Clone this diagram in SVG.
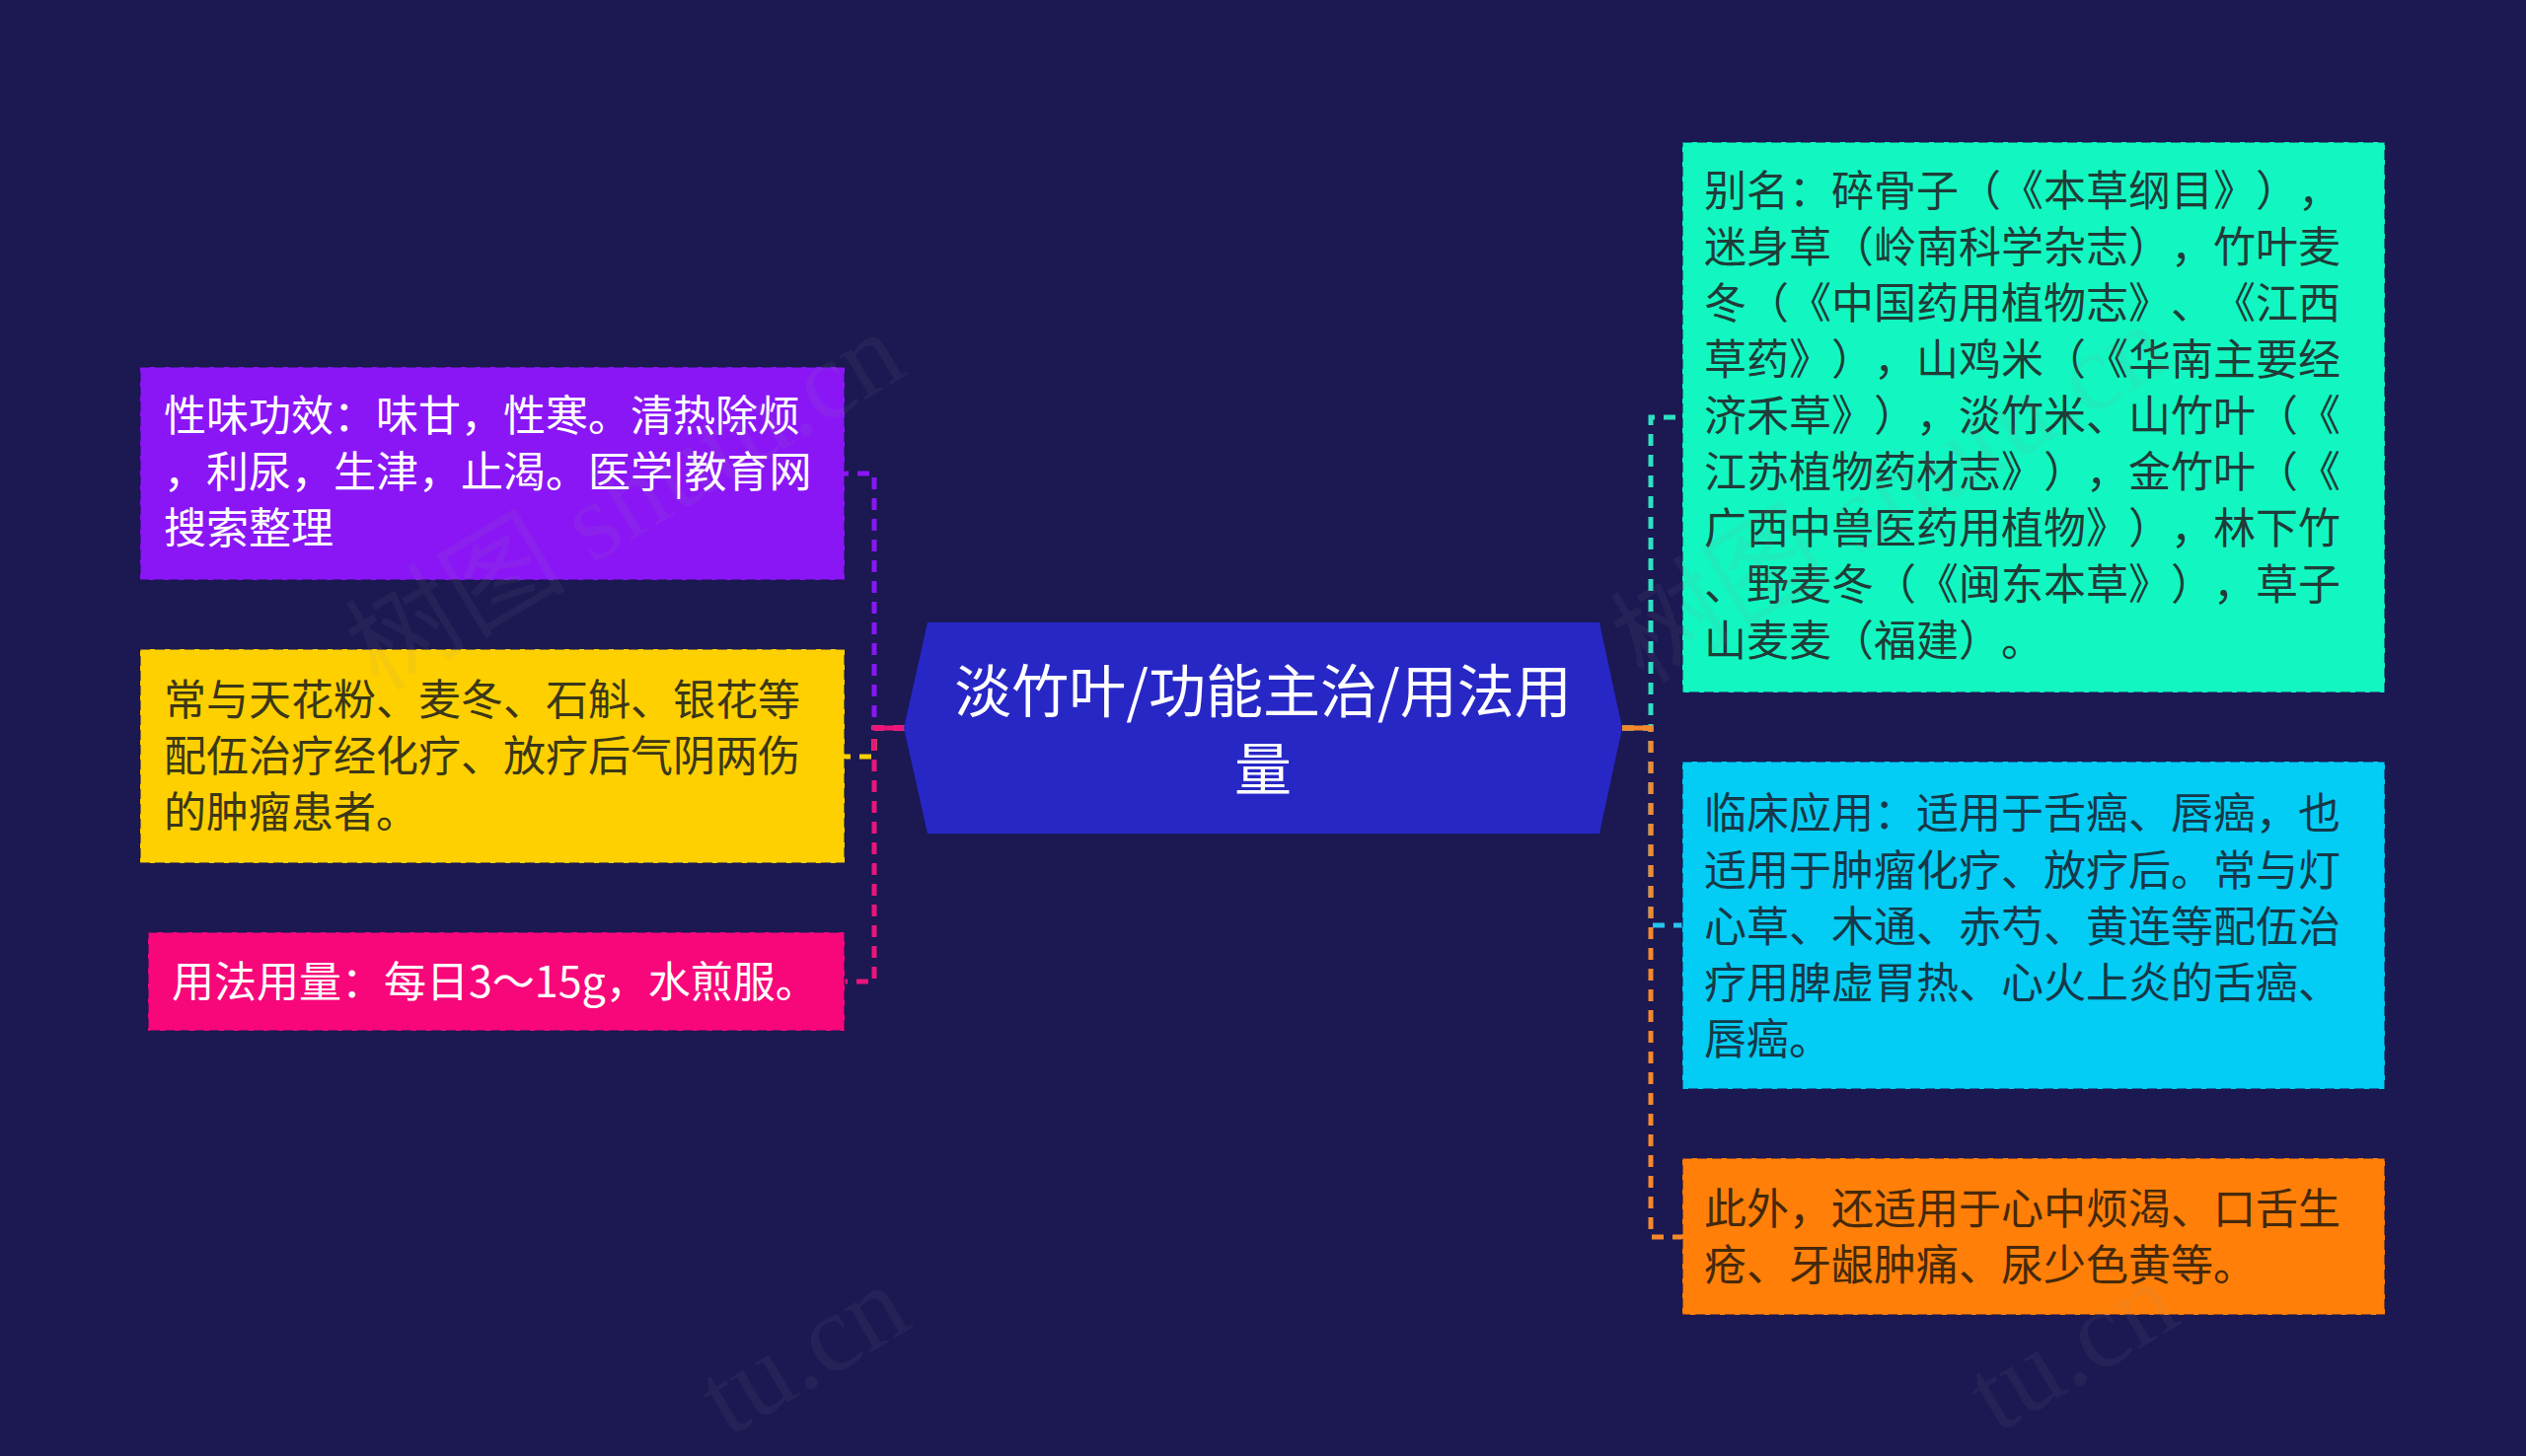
<svg xmlns="http://www.w3.org/2000/svg" width="2560" height="1476" viewBox="0 0 2560 1476">
<style>
.t{font-family:"Noto Sans CJK SC","Noto Sans",sans-serif;font-size:43px;text-spacing-trim:space-all;font-kerning:none}
.box{stroke:#1b1852;stroke-opacity:0.55;stroke-width:2;stroke-dasharray:10 5}
.con{fill:none;stroke-width:5;stroke-dasharray:12 9}
.wm{font-family:"Liberation Serif","Noto Sans CJK SC",serif;font-size:112px;fill:#8c8c8c;fill-opacity:0.09}
</style>
<rect x="0" y="0" width="2560" height="1476" fill="#1b1852"/>
<g id="connectors">
<path class="con" stroke="#8a16f6" d="M917 738 H886 V480 H856"/>
<path class="con" stroke="#ffd000" d="M917 738 H886 V767 H856"/>
<path class="con" stroke="#ee137b" d="M917 738 H886 V995 H856"/>
<path fill="none" stroke="#ee137b" stroke-width="5" d="M917 738 H886"/>
<path class="con" stroke="#2fe0c0" d="M1644 738 H1673 V423 H1705"/>
<path class="con" stroke="#25c3ee" d="M1644 738 H1673 V938 H1705"/>
<path class="con" stroke="#f5882a" d="M1644 738 H1673 V1254 H1705"/>
<path fill="none" stroke="#f5882a" stroke-width="5" d="M1644 738 H1673"/>
</g>
<g id="center">
<polygon points="916,738 940,631 1621,631 1644,738 1621,845 940,845" fill="#2727c6"/>
<text class="t" style="font-size:58px" fill="#ffffff" text-anchor="middle"><tspan x="1280" y="722">淡竹叶/功能主治/用法用</tspan><tspan x="1280" y="801">量</tspan></text>
</g>
<g id="node-xingwei">
<rect class="box" x="142" y="372" width="714" height="216" fill="#8a16f6"/>
<text class="t" fill="#ffffff"><tspan x="166" y="437">性味功效：味甘，性寒。清热除烦</tspan><tspan x="166" y="494">，利尿，生津，止渴。医学|教育网</tspan><tspan x="166" y="551">搜索整理</tspan></text>
</g>
<g id="node-peiwu">
<rect class="box" x="142" y="658" width="714" height="217" fill="#ffd000"/>
<text class="t" fill="#3b3718"><tspan x="166" y="725">常与天花粉、麦冬、石斛、银花等</tspan><tspan x="166" y="782">配伍治疗经化疗、放疗后气阴两伤</tspan><tspan x="166" y="839">的肿瘤患者。</tspan></text>
</g>
<g id="node-yongfa">
<rect class="box" x="150" y="945" width="706" height="100" fill="#f7077a"/>
<text class="t" fill="#ffffff"><tspan x="174" y="1011">用法用量：每日3～15g，水煎服。</tspan></text>
</g>
<g id="node-bieming">
<rect class="box" x="1705" y="144" width="712" height="558" fill="#12f7c2"/>
<text class="t" fill="#203c38"><tspan x="1727" y="209">别名：碎骨子（《本草纲目》），</tspan><tspan x="1727" y="266">迷身草（岭南科学杂志），竹叶麦</tspan><tspan x="1727" y="323">冬（《中国药用植物志》、《江西</tspan><tspan x="1727" y="380">草药》），山鸡米（《华南主要经</tspan><tspan x="1727" y="437">济禾草》），淡竹米、山竹叶（《</tspan><tspan x="1727" y="494">江苏植物药材志》），金竹叶（《</tspan><tspan x="1727" y="551">广西中兽医药用植物》），林下竹</tspan><tspan x="1727" y="608">、野麦冬（《闽东本草》），草子</tspan><tspan x="1727" y="665">山麦麦（福建）。</tspan></text>
</g>
<g id="node-linchuang">
<rect class="box" x="1705" y="772" width="712" height="332" fill="#03cdf4"/>
<text class="t" fill="#163848"><tspan x="1727" y="840">临床应用：适用于舌癌、唇癌，也</tspan><tspan x="1727" y="898">适用于肿瘤化疗、放疗后。常与灯</tspan><tspan x="1727" y="955">心草、木通、赤芍、黄连等配伍治</tspan><tspan x="1727" y="1012">疗用脾虚胃热、心火上炎的舌癌、</tspan><tspan x="1727" y="1069">唇癌。</tspan></text>
</g>
<g id="node-ciwai">
<rect class="box" x="1705" y="1174" width="712" height="159" fill="#ff7f08"/>
<text class="t" fill="#45290c"><tspan x="1727" y="1241">此外，还适用于心中烦渴、口舌生</tspan><tspan x="1727" y="1298">疮、牙龈肿痛、尿少色黄等。</tspan></text>
</g>
<g id="watermarks">
<text class="wm" text-anchor="middle" transform="translate(653 540) rotate(-31)">树图 shutu.cn</text>
<text class="wm" text-anchor="middle" transform="translate(1935 532) rotate(-31)">树图 shutu.cn</text>
<text class="wm" transform="translate(738 1458) rotate(-31)">tu.cn</text>
<text class="wm" transform="translate(2024 1454) rotate(-31)">tu.cn</text>
</g>
</svg>
